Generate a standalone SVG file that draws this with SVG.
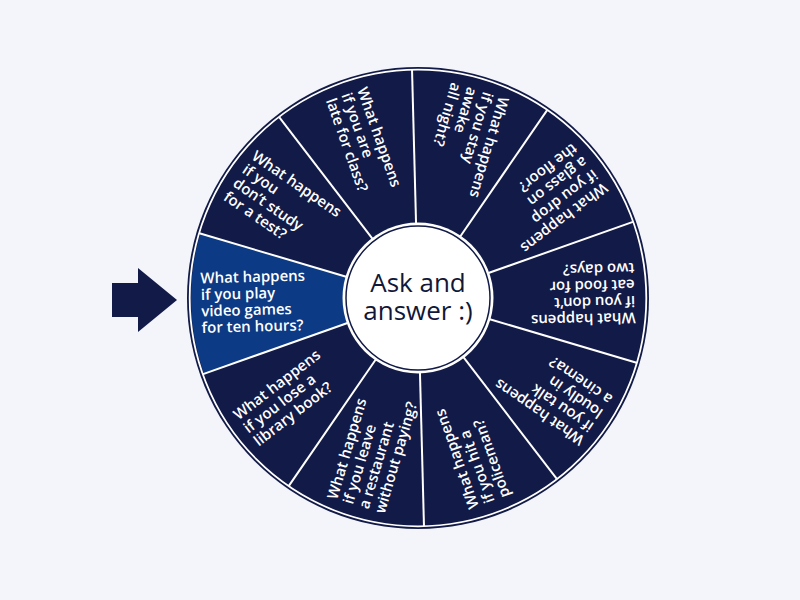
<svg xmlns="http://www.w3.org/2000/svg" width="800" height="600" viewBox="0 0 800 600">
<defs>
<style>
.seg{fill:#121a47}
.hl{fill:#0c3a84}
.lbl{font-family:"Open Sans","Liberation Sans",sans-serif;font-size:15px;font-weight:600;fill:#ffffff}
.div line{stroke:#ffffff;stroke-width:2}
.hub{font-family:"Open Sans","Liberation Sans",sans-serif;font-size:26px;fill:#101738;text-anchor:middle}
</style>
<path id="wedge" d="M0,0 L215.89,-70.15 A227,227 0 0 1 215.89,70.15 Z"/>
</defs>
<rect width="800" height="600" fill="#f3f5fa"/>
<g id="pointer"><polygon points="112,283 138,283 138,268 177,300 138,332 138,317 112,317" fill="#121a47"/></g>
<g id="wheel" transform="translate(418,298)">
<circle r="231" fill="#121a47"/>
<g id="seg-late" transform="rotate(250.5)"><use href="#wedge" class="seg"/><text class="lbl" transform="rotate(180)"><tspan x="-217" y="-12">What happens</tspan><tspan x="-217" y="4.5">if you are</tspan><tspan x="-217" y="21">late for class?</tspan></text></g>
<g id="seg-awake" transform="rotate(286.5)"><use href="#wedge" class="seg"/><text class="lbl" transform="rotate(180)"><tspan x="-217" y="-20.25">What happens</tspan><tspan x="-217" y="-3.75">if you stay</tspan><tspan x="-217" y="12.75">awake</tspan><tspan x="-217" y="29.25">all night?</tspan></text></g>
<g id="seg-glass" transform="rotate(322.5)"><use href="#wedge" class="seg"/><text class="lbl" transform="rotate(180)"><tspan x="-217" y="-20.25">What happens</tspan><tspan x="-217" y="-3.75">if you drop</tspan><tspan x="-217" y="12.75">a glass on</tspan><tspan x="-217" y="29.25">the floor?</tspan></text></g>
<g id="seg-food" transform="rotate(358.5)"><use href="#wedge" class="seg"/><text class="lbl" transform="rotate(180)"><tspan x="-217" y="-20.25">What happens</tspan><tspan x="-217" y="-3.75">if you don’t</tspan><tspan x="-217" y="12.75">eat food for</tspan><tspan x="-217" y="29.25">two days?</tspan></text></g>
<g id="seg-cinema" transform="rotate(34.5)"><use href="#wedge" class="seg"/><text class="lbl" transform="rotate(180)"><tspan x="-217" y="-20.25">What happens</tspan><tspan x="-217" y="-3.75">if you talk</tspan><tspan x="-217" y="12.75">loudly in</tspan><tspan x="-217" y="29.25">a cinema?</tspan></text></g>
<g id="seg-police" transform="rotate(70.5)"><use href="#wedge" class="seg"/><text class="lbl" transform="rotate(180)"><tspan x="-217" y="-12">What happens</tspan><tspan x="-217" y="4.5">if you hit a</tspan><tspan x="-217" y="21">policeman?</tspan></text></g>
<g id="seg-restaurant" transform="rotate(106.5)"><use href="#wedge" class="seg"/><text class="lbl" transform="rotate(180)"><tspan x="-217" y="-20.25">What happens</tspan><tspan x="-217" y="-3.75">if you leave</tspan><tspan x="-217" y="12.75">a restaurant</tspan><tspan x="-217" y="29.25">without paying?</tspan></text></g>
<g id="seg-library" transform="rotate(142.5)"><use href="#wedge" class="seg"/><text class="lbl" transform="rotate(180)"><tspan x="-217" y="-12">What happens</tspan><tspan x="-217" y="4.5">if you lose a</tspan><tspan x="-217" y="21">library book?</tspan></text></g>
<g id="seg-games" transform="rotate(178.5)"><use href="#wedge" class="hl"/><text class="lbl" transform="rotate(180)"><tspan x="-217" y="-20.25">What happens</tspan><tspan x="-217" y="-3.75">if you play</tspan><tspan x="-217" y="12.75">video games</tspan><tspan x="-217" y="29.25">for ten hours?</tspan></text></g>
<g id="seg-study" transform="rotate(214.5)"><use href="#wedge" class="seg"/><text class="lbl" transform="rotate(180)"><tspan x="-217" y="-20.25">What happens</tspan><tspan x="-217" y="-3.75">if you</tspan><tspan x="-217" y="12.75">don’t study</tspan><tspan x="-217" y="29.25">for a test?</tspan></text></g>
<g id="connectors" class="div">
<line x1="74" y1="0" x2="228" y2="0" transform="rotate(268.5)"/>
<line x1="74" y1="0" x2="228" y2="0" transform="rotate(304.5)"/>
<line x1="74" y1="0" x2="228" y2="0" transform="rotate(340.5)"/>
<line x1="74" y1="0" x2="228" y2="0" transform="rotate(16.5)"/>
<line x1="74" y1="0" x2="228" y2="0" transform="rotate(52.5)"/>
<line x1="74" y1="0" x2="228" y2="0" transform="rotate(88.5)"/>
<line x1="74" y1="0" x2="228" y2="0" transform="rotate(124.5)"/>
<line x1="74" y1="0" x2="228" y2="0" transform="rotate(160.5)"/>
<line x1="74" y1="0" x2="228" y2="0" transform="rotate(196.5)"/>
<line x1="74" y1="0" x2="228" y2="0" transform="rotate(232.5)"/>
</g>
<circle r="228.3" fill="none" stroke="#ffffff" stroke-width="1.8"/>
<g id="hub">
<circle r="75.5" fill="#ffffff"/>
<circle r="72" fill="#ffffff" stroke="#121a47" stroke-width="1.5"/>
<text class="hub"><tspan x="0" y="-6">Ask and</tspan><tspan x="0" y="22">answer :)</tspan></text>
</g>
</g>
</svg>
